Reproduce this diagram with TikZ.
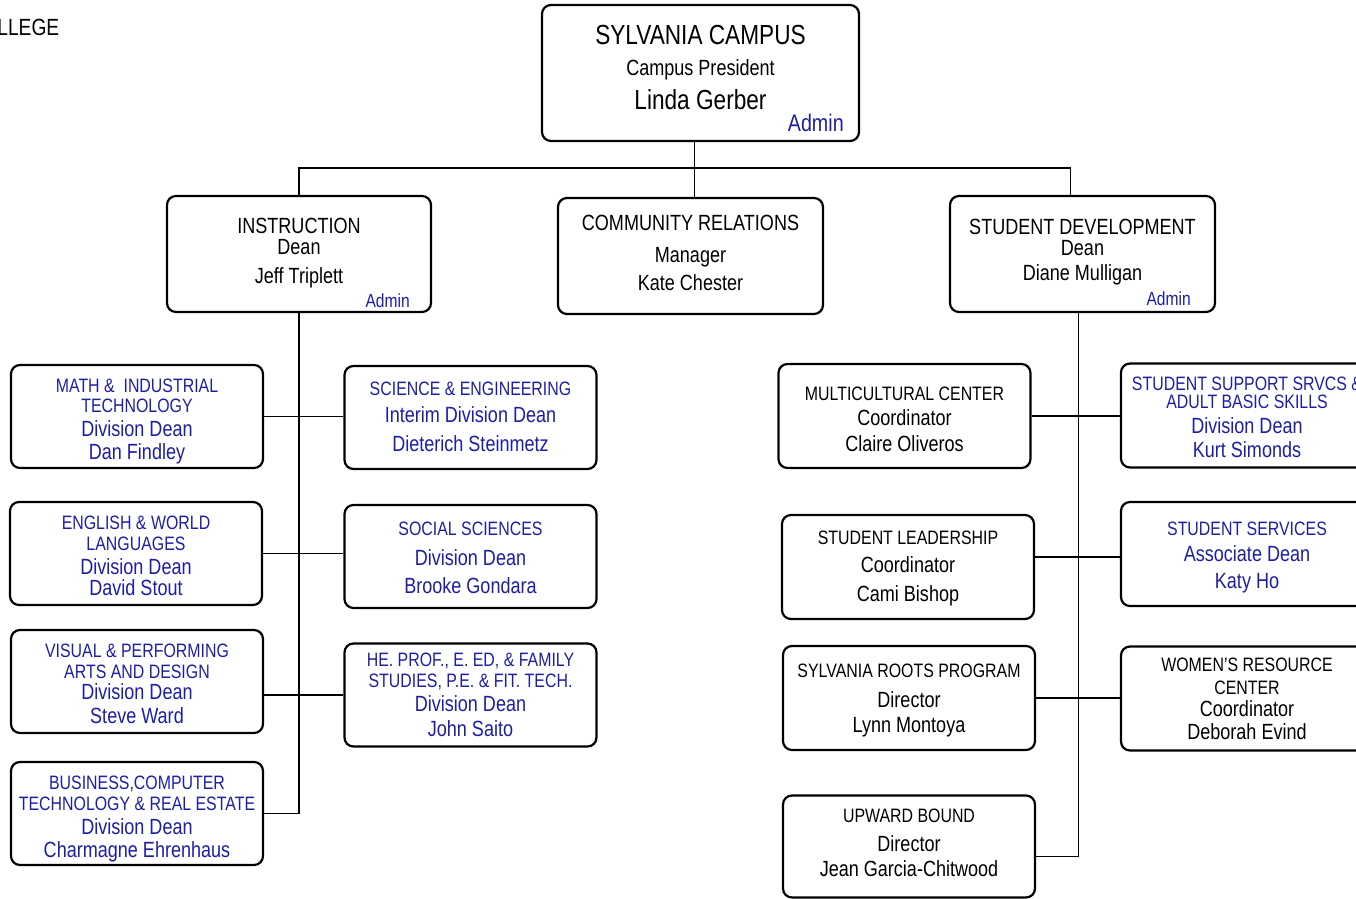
\documentclass[tikz,border=0pt]{standalone}
\usepackage{fontspec}
\setmainfont[FakeStretch=0.82]{Liberation Sans}
\definecolor{deanblue}{RGB}{30,30,165}
\newcommand{\orgtitle}{\fontsize{13.8}{0}\selectfont}
\newcommand{\orgcaps}{\fontsize{9.7}{0}\selectfont}
\tikzset{
  unit/.style={draw, line width=1.1pt, rounded corners=4.5pt, align=center, inner sep=0pt,
    font={\fontsize{11}{0}\selectfont\lineskiplimit=-100pt}, text depth=0pt, text height=#1},
  div/.style={unit=#1, minimum width=126pt, minimum height=51.5pt},
  dept/.style={unit=#1, minimum width=132.5pt, minimum height=58pt},
  admin/.style={text=deanblue, inner sep=0pt, anchor=base east},
  link/.style={line width=0.8pt}
}
\begin{document}
\begin{tikzpicture}[x=0.5pt, y=-0.5pt]
\useasboundingbox (0,0) rectangle (1356,899);
\node[anchor=base west, inner sep=0pt, font=\fontsize{11.7}{0}\selectfont] (college) at (-3,36) {LLEGE};

\node[unit=37pt, minimum width=158.5pt, minimum height=68pt] (campus) at (700.5,73)
  {{\orgtitle SYLVANIA CAMPUS}\\[15.5pt] Campus President\\[17pt] {\orgtitle Linda Gerber}};
\node[admin, font=\fontsize{12}{0}\selectfont] (campus-admin) at ([xshift=-8pt,yshift=5.5pt]campus.south east) {Admin};

\node[dept=30pt, minimum width=132pt] (instr) at (299,254)
  {INSTRUCTION\\[10.5pt] Dean\\[14.5pt] Jeff Triplett};
\node[admin, font=\fontsize{9.5}{0}\selectfont] (instr-admin) at ([xshift=-11pt,yshift=3pt]instr.south east) {Admin};
\node[dept=34pt] (comm) at (690.5,256)
  {COMMUNITY RELATIONS\\[16pt] Manager\\[13.5pt] Kate Chester};
\node[dept=26pt] (sd) at (1082.5,254)
  {STUDENT DEVELOPMENT\\[10.5pt] Dean\\[12.5pt] Diane Mulligan};
\node[admin, font=\fontsize{9.5}{0}\selectfont] (sd-admin) at ([xshift=-12.5pt,yshift=4pt]sd.south east) {Admin};

\node[div=42.5pt, text=deanblue] (math) at (137,416.5)
  {{\orgcaps MATH \&\ \ INDUSTRIAL}\\[10pt] {\orgcaps TECHNOLOGY}\\[12pt] Division Dean\\[11.5pt] Dan Findley};
\node[div=41.5pt, text=deanblue] (eng) at (136,553.5)
  {{\orgcaps ENGLISH \& WORLD}\\[10.5pt] {\orgcaps LANGUAGES}\\[12pt] Division Dean\\[10.5pt] David Stout};
\node[div=41.5pt, text=deanblue] (vis) at (137,681.5)
  {{\orgcaps VISUAL \& PERFORMING}\\[10.5pt] {\orgcaps ARTS AND DESIGN}\\[10.5pt] Division Dean\\[12pt] Steve Ward};
\node[div=43.5pt, text=deanblue] (biz) at (137,813.5)
  {{\orgcaps BUSINESS,COMPUTER}\\[10.5pt] {\orgcaps TECHNOLOGY \& REAL ESTATE}\\[12pt] Division Dean\\[11.5pt] Charmagne Ehrenhaus};

\node[div=33.5pt, text=deanblue] (sci) at (470.5,417.5)
  {{\orgcaps SCIENCE \& ENGINEERING}\\[13.5pt] Interim Division Dean\\[14.5pt] Dieterich Steinmetz};
\node[div=36.5pt, text=deanblue] (soc) at (470.5,556.5)
  {{\orgcaps SOCIAL SCIENCES}\\[15pt] Division Dean\\[14pt] Brooke Gondara};
\node[div=41pt, text=deanblue] (he) at (470.5,695)
  {{\orgcaps HE. PROF., E. ED, \& FAMILY}\\[10.5pt] {\orgcaps STUDIES, P.E. \& FIT. TECH.}\\[12pt] Division Dean\\[12.5pt] John Saito};

\node[div=35pt, minimum height=52pt] (mc) at (904.5,416)
  {{\orgcaps MULTICULTURAL CENTER}\\[13pt] Coordinator\\[12.5pt] Claire Oliveros};
\node[div=34pt, minimum height=52pt] (sl) at (908,567)
  {{\orgcaps STUDENT LEADERSHIP}\\[14pt] Coordinator\\[14.5pt] Cami Bishop};
\node[div=34pt, minimum height=52pt] (roots) at (909,698)
  {{\orgcaps SYLVANIA ROOTS PROGRAM}\\[15pt] Director\\[12.5pt] Lynn Montoya};
\node[div=30pt, minimum height=51pt] (up) at (909,846.5)
  {{\orgcaps UPWARD BOUND}\\[14.5pt] Director\\[12.5pt] Jean Garcia-Chitwood};

\node[div=41.5pt, minimum height=52pt, text=deanblue] (ssup) at (1247,415.5)
  {{\orgcaps STUDENT SUPPORT SRVCS \&}\\[9pt] {\orgcaps ADULT BASIC SKILLS}\\[12.5pt] Division Dean\\[12pt] Kurt Simonds};
\node[div=34pt, minimum height=52pt, text=deanblue] (sserv) at (1247,554)
  {{\orgcaps STUDENT SERVICES}\\[13pt] Associate Dean\\[13.5pt] Katy Ho};
\node[div=40.5pt, minimum height=52pt] (women) at (1247,698.5)
  {{\orgcaps WOMEN’S RESOURCE}\\[11.5pt] {\orgcaps CENTER}\\[11pt] Coordinator\\[11.5pt] Deborah Evind};

\coordinate (bus) at (694,168);
\draw[link] ([xshift=-3pt]campus.south) -- ([xshift=-3pt]campus.south |- comm.north);
\draw[link] (instr.north) |- (bus) -| ([xshift=-6pt]sd.north);

\draw[link] (instr.south) |- (biz.east);
\draw[link] (math.east) -- (math.east -| sci.west);
\draw[link] (eng.east) -- (eng.east -| soc.west);
\draw[link] (he.west) -- (he.west -| vis.east);

\draw[link] ([xshift=-2pt]sd.south) |- ([yshift=-5pt]up.east);
\draw[link] (mc.east) -- (mc.east -| ssup.west);
\draw[link] ([yshift=-1.5pt]sserv.west) -- ([yshift=-1.5pt]sserv.west -| sl.east);
\draw[link] (roots.east) -- (roots.east -| women.west);
\end{tikzpicture}
\end{document}
